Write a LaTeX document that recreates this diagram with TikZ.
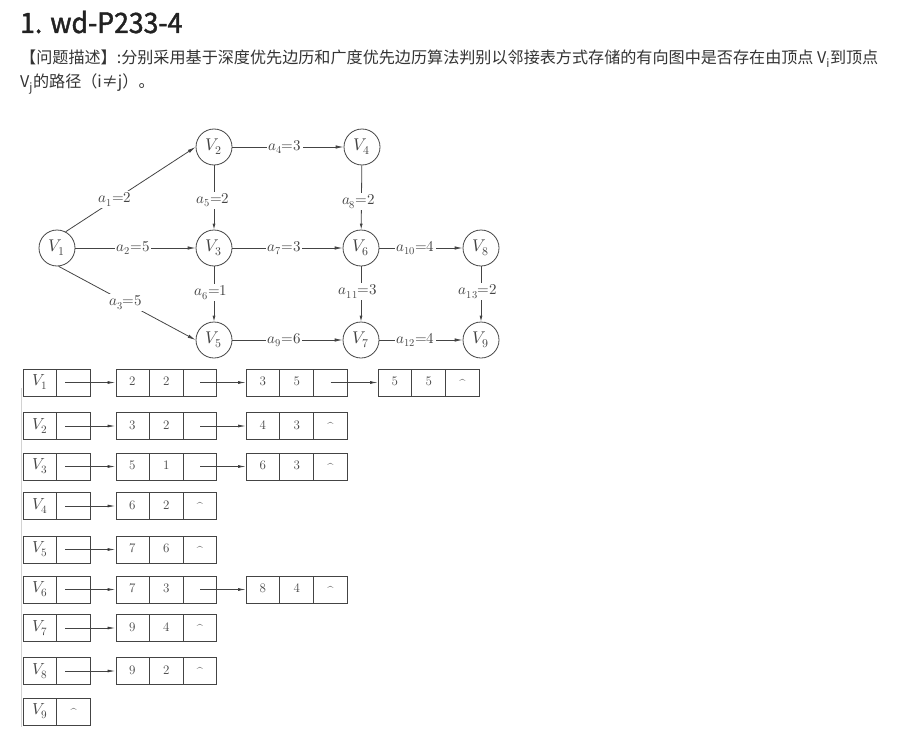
\documentclass[tikz,border=0pt]{standalone}
\usepackage{unicode-math}
\newfontfamily\cjk{Noto Sans CJK SC}
\newfontfamily\cjktitle[FakeStretch=0.95,FakeBold=1.5]{Noto Sans CJK SC}
\usetikzlibrary{arrows.meta,shapes.multipart}
\definecolor{inkgray}{HTML}{444444}
\definecolor{textdark}{HTML}{222222}
\definecolor{textbody}{HTML}{333333}
\newcommand{\cell}[1]{\makebox[33pt]{\strut#1}}
\newcommand{\vfont}{\fontsize{16}{18}\selectfont}
\newcommand{\nilmark}{\raisebox{-1.5pt}{\fontsize{11}{12}\selectfont\textasciicircum}}
\tikzset{
  title/.style={anchor=base west,inner sep=0pt,text=textdark,font=\cjktitle\fontsize{28}{34}\selectfont},
  para/.style={anchor=base west,inner sep=0pt,text=textbody,font=\cjk\fontsize{16.1}{20}\selectfont},
  vertex/.style={draw=inkgray,line width=.8pt,circle,minimum size=36pt,inner sep=0pt,text=inkgray,font=\fontsize{17}{19}\selectfont},
  weight/.style={fill=white,inner sep=1.5pt,text=inkgray,font=\fontsize{15}{17}\selectfont},
  vweight/.style={weight,xshift=-3pt},
  arc/.style={draw=inkgray,line width=.8pt,-{Latex[length=8pt,width=3.5pt]}},
  varc/.style={draw=inkgray,line width=.8pt,-{Latex[length=6pt,width=3pt]}},
  headbox/.style={draw=inkgray,line width=.8pt,rectangle split,rectangle split horizontal,rectangle split parts=2,
    inner xsep=0pt,inner ysep=0pt,minimum height=27pt,text=inkgray,anchor=west,font=\fontsize{13}{15}\selectfont},
  arcbox/.style={headbox,rectangle split parts=3},
  link/.style={draw=inkgray,line width=.8pt,-{Latex[length=8pt,width=3pt]}},
  scanedge/.style={draw=gray!35,line width=1pt}
}
\begin{document}
\begin{tikzpicture}[x=1pt,y=-1pt]
  \useasboundingbox (0,0) rectangle (901,741);
  % heading and problem statement
  \node[title] (head) at (20,33) {1. wd-P233-4};
  \node[para] (line1) at (20,64) {【问题描述】:分别采用基于深度优先边历和广度优先边历算法判别以邻接表方式存储的有向图中是否存在由顶点 V\textsubscript{i}到顶点};
  \node[para] (line2) at (20,88) {V\textsubscript{j}的路径（i≠j）。};
  % the graph
  \draw
    (57,248) node[vertex] (v1){$V_1$}
    (214,147) node[vertex] (v2){$V_2$}
    (214,248) node[vertex] (v3){$V_3$}
    (362,147) node[vertex] (v4){$V_4$}
    (214,340) node[vertex] (v5){$V_5$}
    (361,248) node[vertex] (v6){$V_6$}
    (361,340) node[vertex] (v7){$V_7$}
    (481,248) node[vertex] (v8){$V_8$}
    (481,340) node[vertex] (v9){$V_9$};
  \begin{scope}[arc]
    \draw (v1.62) to node[weight,pos=.38]{$a_1{=}2$} (v2.west);
    \draw (v1) to node[weight,pos=.48]{$a_2{=}5$} (v3);
    \draw (v1.-85) to node[weight,pos=.49]{$a_3{=}5$} (v5.west);
    \draw (v2) to node[weight,pos=.47]{$a_4{=}3$} (v4);
    \draw (v3) to node[weight,pos=.47]{$a_7{=}3$} (v6);
    \draw (v5) to node[weight,pos=.47]{$a_9{=}6$} (v7);
    \draw (v6) to node[weight,pos=.43]{$a_{10}{=}4$} (v8);
    \draw (v7) to node[weight,pos=.43]{$a_{12}{=}4$} (v9);
  \end{scope}
  \begin{scope}[varc]
    \draw (v2) to node[vweight,xshift=2pt,pos=.54]{$a_5{=}2$} (v3);
    \draw (v3) to node[vweight,pos=.48]{$a_6{=}1$} (v5);
    \draw (v4) to node[vweight,pos=.56]{$a_8{=}2$} (v6);
    \draw (v6) to node[vweight,pos=.46]{$a_{11}{=}3$} (v7);
    \draw (v8) to node[vweight,pos=.46]{$a_{13}{=}2$} (v9);
  \end{scope}
  % adjacency list
  \draw[scanedge] (21.5,388) -- (21.5,727);
  \node[headbox] (h1) at (23,382.5) {\cell{\vfont$V_1$}\nodepart{two}\cell{}};
  \node[arcbox] (e11) at (115.5,382.5) {\cell{2}\nodepart{two}\cell{2}\nodepart{three}\cell{}};
  \node[arcbox] (e12) at (246,382.5) {\cell{3}\nodepart{two}\cell{5}\nodepart{three}\cell{}};
  \node[arcbox] (e13) at (378,382.5) {\cell{5}\nodepart{two}\cell{5}\nodepart{three}\cell{\nilmark}};
  \node[headbox] (h2) at (23,426) {\cell{\vfont$V_2$}\nodepart{two}\cell{}};
  \node[arcbox] (e21) at (115.5,426) {\cell{3}\nodepart{two}\cell{2}\nodepart{three}\cell{}};
  \node[arcbox] (e22) at (246,426) {\cell{4}\nodepart{two}\cell{3}\nodepart{three}\cell{\nilmark}};
  \node[headbox] (h3) at (23,466.5) {\cell{\vfont$V_3$}\nodepart{two}\cell{}};
  \node[arcbox] (e31) at (115.5,466.5) {\cell{5}\nodepart{two}\cell{1}\nodepart{three}\cell{}};
  \node[arcbox] (e32) at (246,466.5) {\cell{6}\nodepart{two}\cell{3}\nodepart{three}\cell{\nilmark}};
  \node[headbox] (h4) at (23,506) {\cell{\vfont$V_4$}\nodepart{two}\cell{}};
  \node[arcbox] (e41) at (115.5,506) {\cell{6}\nodepart{two}\cell{2}\nodepart{three}\cell{\nilmark}};
  \node[headbox] (h5) at (23,549.5) {\cell{\vfont$V_5$}\nodepart{two}\cell{}};
  \node[arcbox] (e51) at (115.5,549.5) {\cell{7}\nodepart{two}\cell{6}\nodepart{three}\cell{\nilmark}};
  \node[headbox] (h6) at (23,589.5) {\cell{\vfont$V_6$}\nodepart{two}\cell{}};
  \node[arcbox] (e61) at (115.5,589.5) {\cell{7}\nodepart{two}\cell{3}\nodepart{three}\cell{}};
  \node[arcbox] (e62) at (246,589.5) {\cell{8}\nodepart{two}\cell{4}\nodepart{three}\cell{\nilmark}};
  \node[headbox] (h7) at (23,628) {\cell{\vfont$V_7$}\nodepart{two}\cell{}};
  \node[arcbox] (e71) at (115.5,628) {\cell{9}\nodepart{two}\cell{4}\nodepart{three}\cell{\nilmark}};
  \node[headbox] (h8) at (23,671) {\cell{\vfont$V_8$}\nodepart{two}\cell{}};
  \node[arcbox] (e81) at (115.5,671) {\cell{9}\nodepart{two}\cell{2}\nodepart{three}\cell{\nilmark}};
  \node[headbox] (h9) at (23,711.5) {\cell{\vfont$V_9$}\nodepart{two}\cell{\nilmark}};
  \begin{scope}[link]
    \draw ([xshift=8.5pt]h1.one split) -- (e11);
    \draw ([xshift=17pt]e11.two split) -- (e12);
    \draw ([xshift=17pt]e12.two split) -- (e13);
    \draw ([xshift=8.5pt]h2.one split) -- (e21);
    \draw ([xshift=17pt]e21.two split) -- (e22);
    \draw ([xshift=8.5pt]h3.one split) -- (e31);
    \draw ([xshift=17pt]e31.two split) -- (e32);
    \draw ([xshift=8.5pt]h4.one split) -- (e41);
    \draw ([xshift=8.5pt]h5.one split) -- (e51);
    \draw ([xshift=8.5pt]h6.one split) -- (e61);
    \draw ([xshift=17pt]e61.two split) -- (e62);
    \draw ([xshift=8.5pt]h7.one split) -- (e71);
    \draw ([xshift=8.5pt]h8.one split) -- (e81);
  \end{scope}
\end{tikzpicture}
\end{document}
